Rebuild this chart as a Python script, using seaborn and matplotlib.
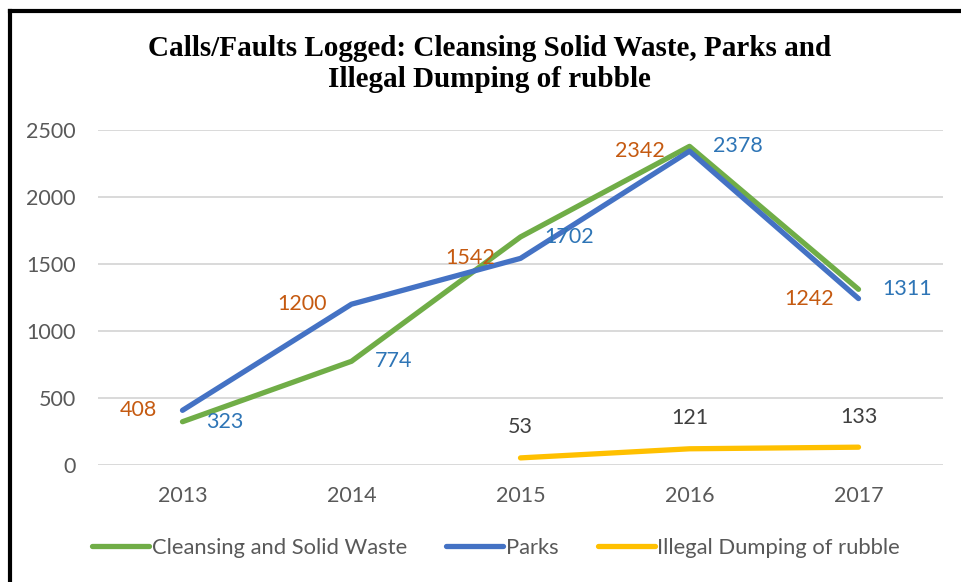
import matplotlib
matplotlib.use("Agg")
import matplotlib.pyplot as plt
from matplotlib.lines import Line2D
import numpy as np
import pandas as pd
import seaborn as sns

# Calls / faults logged per year
years = ["2013", "2014", "2015", "2016", "2017"]
cleansing = [323, 774, 1702, 2378, 1311]
parks = [408, 1200, 1542, 2342, 1242]
illegal_dumping = [np.nan, np.nan, 53, 121, 133]

series_names = ["Cleansing and Solid Waste", "Parks", "Illegal Dumping of rubble"]
series_values = [cleansing, parks, illegal_dumping]
line_colors = ["#70AD47", "#4472C4", "#FFC000"]
label_colors = ["#2E75B6", "#C55A11", "#404040"]

rows = []
for name, vals in zip(series_names, series_values):
    for i, v in enumerate(vals):
        rows.append({"pos": i, "year": years[i], "series": name, "calls": v})
df = pd.DataFrame(rows).dropna()

sns.set_theme(style="white")
plt.rcParams["font.family"] = ["Lato", "DejaVu Sans"]

W, H = 962, 582
fig = plt.figure(figsize=(W / 100, H / 100), dpi=100)
fig.patch.set_facecolor("white")

left, right, top, bottom = 98, 943, 130, 465
ax = fig.add_axes([left / W, 1 - bottom / H, (right - left) / W, (bottom - top) / H])

sns.lineplot(data=df, x="pos", y="calls", hue="series", hue_order=series_names,
             palette=dict(zip(series_names, line_colors)), linewidth=3.8,
             legend=False, ax=ax, sort=False)
for ln in ax.get_lines():
    ln.set_solid_capstyle("round")
    ln.set_solid_joinstyle("round")
    ln.set_clip_on(False)

ax.set_xlim(-0.5, len(years) - 0.5)
ax.set_ylim(0, 2500)
ax.set_yticks(range(0, 2501, 500))
ax.set_xticks(range(len(years)))
ax.set_xticklabels(years)
ax.set_xlabel("")
ax.set_ylabel("")
ax.grid(axis="y", color="#D9D9D9", linewidth=1.4)
ax.grid(axis="x", visible=False)
ax.set_axisbelow(True)
for s in ax.spines.values():
    s.set_visible(False)
ax.tick_params(axis="both", length=0, labelsize=15.5, labelcolor="#595959")
ax.tick_params(axis="y", pad=16)
ax.tick_params(axis="x", pad=15)

# Value labels: Parks to the left, Cleansing to the right, Illegal dumping above
for i, v in enumerate(parks):
    ax.annotate(f"{v}", (i, v), xytext=(-18, 0), textcoords="offset points",
                ha="right", va="center", color=label_colors[1], fontsize=15.5)
for i, v in enumerate(cleansing):
    ax.annotate(f"{v}", (i, v), xytext=(17, 0), textcoords="offset points",
                ha="left", va="center", color=label_colors[0], fontsize=15.5)
for i, v in enumerate(illegal_dumping):
    if not np.isnan(v):
        ax.annotate(f"{v:.0f}", (i, v), xytext=(0, 22), textcoords="offset points",
                    ha="center", va="center", color=label_colors[2], fontsize=15.5)

fig.text(0.509, 1 - 64 / H,
         "Calls/Faults Logged: Cleansing Solid Waste, Parks and\nIllegal Dumping of rubble",
         ha="center", va="center", fontsize=21, fontweight="bold",
         family="Liberation Serif", color="black", linespacing=1.2)

handles = [Line2D([], [], color=c, linewidth=3.8, solid_capstyle="round") for c in line_colors]
fig.legend(handles, series_names, loc="center", bbox_to_anchor=(496 / W, 1 - 548 / H),
           ncol=3, frameon=False, fontsize=15.8, handlelength=2.6, handletextpad=0.1,
           columnspacing=1.8, labelcolor="#595959")

# Frame lines along the left and top edges
fig.add_artist(Line2D([10 / W, 10 / W], [0, 1 - 10.5 / H], color="black", linewidth=3,
                      transform=fig.transFigure, solid_capstyle="projecting"))
fig.add_artist(Line2D([10 / W, 1], [1 - 10.5 / H, 1 - 10.5 / H], color="black", linewidth=3,
                      transform=fig.transFigure, solid_capstyle="projecting"))

fig.savefig("out.png", dpi=100, facecolor="white")
